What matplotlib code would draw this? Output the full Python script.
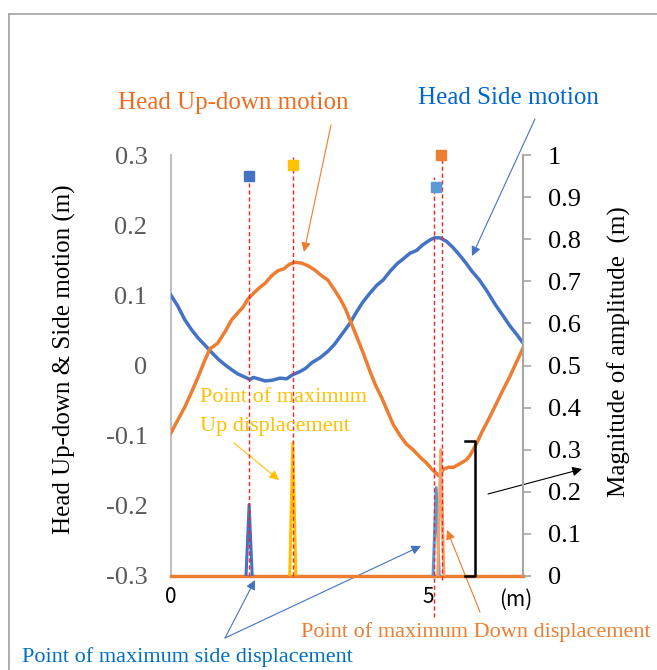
import matplotlib.pyplot as plt
from matplotlib.lines import Line2D

plt.rcParams['font.family'] = ['Liberation Serif', 'DejaVu Serif']

# head side motion (left axis)
side_x = [0, 0.13, 0.27, 0.40, 0.53, 0.66, 0.80, 0.92, 1.05, 1.18, 1.30, 1.42, 1.54,
          1.60, 1.70, 1.83, 1.97, 2.12, 2.25, 2.37, 2.50, 2.62, 2.74, 2.90, 3.05, 3.18,
          3.30, 3.48, 3.60, 3.73, 3.87, 4.00, 4.13, 4.26, 4.40, 4.52, 4.65, 4.78, 4.90,
          5.04, 5.13, 5.23, 5.36, 5.49, 5.62, 5.74, 5.86, 6.00, 6.15, 6.30, 6.46, 6.60,
          6.72, 6.85]
side_y = [0.100, 0.085, 0.065, 0.051, 0.039, 0.029, 0.018, 0.009, 0.001, -0.006, -0.012,
          -0.016, -0.020, -0.017, -0.019, -0.022, -0.021, -0.018, -0.019, -0.013, -0.009,
          -0.004, 0.004, 0.011, 0.020, 0.030, 0.042, 0.060, 0.075, 0.090, 0.103, 0.114,
          0.122, 0.134, 0.145, 0.152, 0.160, 0.164, 0.172, 0.179, 0.182, 0.182, 0.177,
          0.168, 0.157, 0.146, 0.134, 0.122, 0.106, 0.088, 0.071, 0.056, 0.045, 0.032]

# head up-down motion (left axis)
updown_x = [0, 0.13, 0.27, 0.40, 0.53, 0.65, 0.76, 0.84, 0.91, 1.05, 1.18, 1.30, 1.40,
            1.50, 1.62, 1.74, 1.83, 1.96, 2.08, 2.20, 2.30, 2.41, 2.54, 2.67, 2.80, 2.93,
            3.05, 3.18, 3.30, 3.40, 3.52, 3.62, 3.75, 3.87, 3.98, 4.10, 4.20, 4.33, 4.46,
            4.58, 4.71, 4.84, 4.96, 5.08, 5.21, 5.30, 5.40, 5.50, 5.62, 5.74, 5.82, 5.94,
            6.07, 6.20, 6.34, 6.48, 6.58, 6.68, 6.77, 6.85]
updown_y = [-0.096, -0.078, -0.059, -0.038, -0.016, 0.006, 0.024, 0.028, 0.032, 0.048,
            0.065, 0.075, 0.083, 0.095, 0.104, 0.112, 0.117, 0.128, 0.135, 0.138, 0.144,
            0.147, 0.146, 0.142, 0.136, 0.128, 0.122, 0.108, 0.094, 0.080, 0.058, 0.040,
            0.016, -0.008, -0.028, -0.046, -0.063, -0.085, -0.100, -0.112, -0.120, -0.130,
            -0.138, -0.148, -0.157, -0.148, -0.145, -0.145, -0.140, -0.135, -0.128, -0.112,
            -0.092, -0.074, -0.053, -0.032, -0.018, -0.002, 0.012, 0.025]

# amplitude spikes (right axis)
spike_x = [1.52, 2.37, 5.16, 5.25]
spike_h = [0.17, 0.316, 0.21, 0.30]
spike_c = ['#4472C4', '#FFC000', '#5B9BD5', '#F4A46A']
mark_y = [0.95, 0.976, 0.924, 1.0]
mark_c = ['#4472C4', '#FFC000', '#5B9BD5', '#ED7D31']

# red guide lines
guide_x = [1.52, 2.37, 5.12, 5.27]
guide_top = [0.95, 0.995, 0.948, 0.988]
guide_bot = [0.0, 0.0, -0.097, -0.01]

left_ticks = [-0.3, -0.2, -0.1, 0, 0.1, 0.2, 0.3]
left_labels = ['-0.3', '-0.2', '-0.1', '0', '0.1', '0.2', '0.3']
right_ticks = [0, 0.1, 0.2, 0.3, 0.4, 0.5, 0.6, 0.7, 0.8, 0.9, 1.0]
right_labels = ['0', '0.1', '0.2', '0.3', '0.4', '0.5', '0.6', '0.7', '0.8', '0.9', '1']

W, H = 657, 670
fig = plt.figure(figsize=(W / 100, H / 100), dpi=100)
ax = fig.add_axes([171 / W, 1 - 576 / H, 352 / W, 421 / H])
ax2 = ax.twinx()

ax.plot(side_x, side_y, color='#4472C4', lw=2.5, zorder=3)
ax.plot(updown_x, updown_y, color='#ED7D31', lw=2.5, zorder=4)
ax.set_xlim(0, 6.85)
ax.set_ylim(-0.3, 0.3)
ax.set_yticks(left_ticks)
ax.set_yticklabels(left_labels)
ax.tick_params(axis='y', length=0, pad=17, labelsize=19, labelcolor='#595959')
ax.set_xticks([0, 5])
ax.set_xticklabels(['0', '5'], family=['Noto Sans CJK JP', 'DejaVu Sans'])
ax.tick_params(axis='x', length=0, pad=7, labelsize=15)
for s in ['top', 'right', 'bottom']:
    ax.spines[s].set_visible(False)
ax.spines['left'].set_color('#BFBFBF')
ax.spines['left'].set_linewidth(1.5)
ax.set_ylabel('Head Up-down & Side motion (m)', fontsize=18)
ax.yaxis.set_label_coords(-0.27, 0.515)

# right axis
ax2.plot([0, 6.85], [0, 0], color='#ED7D31', lw=2.5, zorder=2, clip_on=False)
for x, h, c in zip(spike_x, spike_h, spike_c):
    ax2.plot([x - 0.06, x, x + 0.06], [0, h, 0], color=c, lw=2.2, zorder=3)
for x, t, b in zip(guide_x, guide_top, guide_bot):
    ax2.plot([x, x], [b, t], color='#FF2020', lw=1, ls=(0, (3, 2)), zorder=5, clip_on=False)
for x, y, c in zip(spike_x, mark_y, mark_c):
    ax2.plot([x], [y], marker='s', ms=7, color=c, ls='none', zorder=6, clip_on=False)
ax2.set_ylim(0, 1)
ax2.set_yticks(right_ticks)
ax2.set_yticklabels(right_labels)
ax2.tick_params(axis='y', length=6, width=1.2, color='#A6A6A6', pad=12, labelsize=19)
for s in ['top', 'left', 'bottom']:
    ax2.spines[s].set_visible(False)
ax2.spines['right'].set_color('#A6A6A6')
ax2.spines['right'].set_linewidth(1.5)
ax2.set_ylabel('Magnitude of amplitude  (m)', fontsize=18)
ax2.yaxis.set_label_coords(1.239, 0.532)

# bracket
ax2.plot([5.72, 5.91, 5.91, 5.72], [0.32, 0.32, 0.0, 0.0], color='black', lw=1.8,
         zorder=7, clip_on=False)


def px(x, y):
    return (x, H - y)


def note(text, xy, color, size, ha='center', family=None):
    fig.text(xy[0] / W, 1 - xy[1] / H, text, color=color, fontsize=size, ha=ha,
             va='center', family=family)


def arrow(start, end, color, lw=0.8, scale=14):
    ax.annotate('', xy=px(*end), xycoords='figure pixels', xytext=px(*start),
                textcoords='figure pixels', annotation_clip=False,
                arrowprops=dict(arrowstyle='-|>', color=color, lw=lw,
                                mutation_scale=scale, shrinkA=0, shrinkB=0))


note('Head Up-down motion', (233, 103), '#F26B1D', 18)
arrow((331, 125), (304, 252), '#ED7D31')
note('Head Side motion', (508, 98), '#0066CC', 18)
arrow((535, 119), (472, 256), '#4472C4')
note('Point of maximum', (200, 398), '#FFC000', 16, ha='left')
note('Up displacement', (200, 426), '#FFC000', 16, ha='left')
arrow((234, 443), (279, 480), '#FFC000')
note('Point of maximum Down displacement', (476, 632), '#ED7D31', 16)
arrow((480, 612), (447, 530), '#ED7D31')
note('Point of maximum side displacement', (22, 657), '#0070C0', 16, ha='left')
arrow((225, 638), (255, 580), '#4472C4')
arrow((225, 638), (421, 546), '#4472C4')
arrow((488, 494), (582, 469), 'black')
note('(m)', (516, 600), 'black', 15, family=['Noto Sans CJK JP', 'DejaVu Sans'])

# outer frame
fig.add_artist(Line2D([9 / W, 9 / W], [0, 1 - 14 / H], color='#A0A0A0', lw=1.2,
                      transform=fig.transFigure))
fig.add_artist(Line2D([9 / W, 1], [1 - 14 / H, 1 - 14 / H], color='#A0A0A0', lw=1.2,
                      transform=fig.transFigure))

fig.savefig('out.png', dpi=100)
